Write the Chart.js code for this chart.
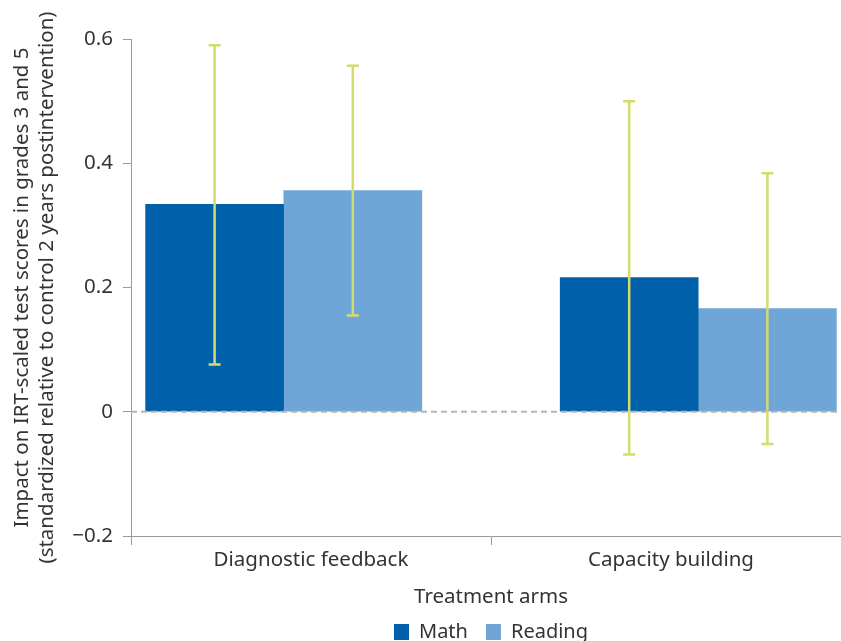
<!DOCTYPE html>
<html>
<head>
<meta charset="utf-8">
<script src="https://cdn.jsdelivr.net/npm/chart.js@4.4.0/dist/chart.umd.min.js"></script>
<style>
  html, body { margin: 0; padding: 0; background: #fff; overflow: hidden; }
  #wrap { width: 870px; height: 652px; position: relative; }
</style>
</head>
<body>
<div id="wrap"><canvas id="chart"></canvas></div>
<script>
const categories = ['Diagnostic feedback', 'Capacity building'];
const seriesNames = ['Math', 'Reading'];
const mathValues = [0.334, 0.216];
const mathLow = [0.076, -0.069];
const mathHigh = [0.590, 0.500];
const readingValues = [0.356, 0.166];
const readingLow = [0.155, -0.052];
const readingHigh = [0.557, 0.384];
const yTicks = [-0.2, 0, 0.2, 0.4, 0.6];

const FONT = '"Noto Sans", "Open Sans", sans-serif';
const TEXT = '#333333';
const AXIS = '#9a9a9a';

// each category holds two bar slots plus one gap slot between the groups
const slotOf = (cat, series) => cat * 3 + series + 0.5;

const errorBars = {
  id: 'errorBars',
  afterDatasetsDraw(chart) {
    const { ctx, chartArea, scales: { y } } = chart;
    const y0 = y.getPixelForValue(0);
    ctx.save();
    ctx.strokeStyle = '#b5b5b5';
    ctx.lineWidth = 2;
    ctx.setLineDash([6, 4]);
    ctx.beginPath();
    ctx.moveTo(chartArea.left, y0);
    ctx.lineTo(chartArea.right, y0);
    ctx.stroke();
    ctx.setLineDash([]);

    ctx.strokeStyle = '#d3db6d';
    ctx.lineWidth = 2.5;
    chart.data.datasets.forEach((ds, i) => {
      chart.getDatasetMeta(i).data.forEach((bar, j) => {
        const lo = y.getPixelForValue(ds.errLow[j]);
        const hi = y.getPixelForValue(ds.errHigh[j]);
        ctx.beginPath();
        ctx.moveTo(bar.x, lo); ctx.lineTo(bar.x, hi);
        ctx.moveTo(bar.x - 6, lo); ctx.lineTo(bar.x + 6, lo);
        ctx.moveTo(bar.x - 6, hi); ctx.lineTo(bar.x + 6, hi);
        ctx.stroke();
      });
    });
    ctx.restore();
  }
};

new Chart(document.getElementById('chart'), {
  type: 'bar',
  data: {
    datasets: [{
      label: seriesNames[0],
      data: mathValues.map((v, i) => ({ x: slotOf(i, 0), y: v })),
      errLow: mathLow,
      errHigh: mathHigh,
      backgroundColor: '#0061aa'
    }, {
      label: seriesNames[1],
      data: readingValues.map((v, i) => ({ x: slotOf(i, 1), y: v })),
      errLow: readingLow,
      errHigh: readingHigh,
      backgroundColor: '#70a6d7'
    }]
  },
  options: {
    responsive: true,
    maintainAspectRatio: false,
    animation: false,
    layout: { padding: { top: 39, right: 19, left: 0, bottom: 0 } },
    datasets: { bar: { grouped: false, barThickness: 138 } },
    plugins: {
      tooltip: { enabled: false },
      legend: {
        position: 'bottom',
        fullSize: false,
        labels: {
          boxWidth: 15, boxHeight: 16, padding: 18,
          color: TEXT, font: { family: FONT, size: 20 }
        }
      }
    },
    scales: {
      x: {
        type: 'linear',
        display: false,
        offset: false,
        min: -0.105,
        max: 5.105
      },
      xc: {
        type: 'category',
        labels: categories,
        position: 'bottom',
        offset: true,
        afterFit: s => { s.height = 68; },
        grid: { offset: true, drawOnChartArea: false, tickLength: 9, color: AXIS },
        border: { color: AXIS },
        ticks: { color: TEXT, font: { family: FONT, size: 20.5 }, padding: 3, maxRotation: 0 },
        title: {
          display: true, text: 'Treatment arms', color: TEXT,
          font: { family: FONT, size: 20.5 }, padding: { top: 0, bottom: -5 }
        }
      },
      y: {
        min: -0.2,
        max: 0.6,
        afterBuildTicks: s => { s.ticks = yTicks.map(v => ({ value: v })); },
        afterFit: s => { s.width = 131; },
        grid: { drawOnChartArea: false, tickLength: 8, color: AXIS },
        border: { color: AXIS },
        ticks: {
          color: TEXT, font: { family: FONT, size: 20.5 }, padding: 10,
          callback: v => v === 0 ? '0' : (v < 0 ? '\u2212' : '') + Math.abs(v).toFixed(1)
        },
        title: {
          display: true,
          text: ['Impact on IRT-scaled test scores in grades 3 and 5',
                 '(standardized relative to control 2 years postintervention)'],
          color: TEXT, font: { family: FONT, size: 20.5, lineHeight: 1.2 },
          padding: { top: 10, bottom: 0 }
        }
      }
    }
  },
  plugins: [errorBars]
});
</script>
</body>
</html>
